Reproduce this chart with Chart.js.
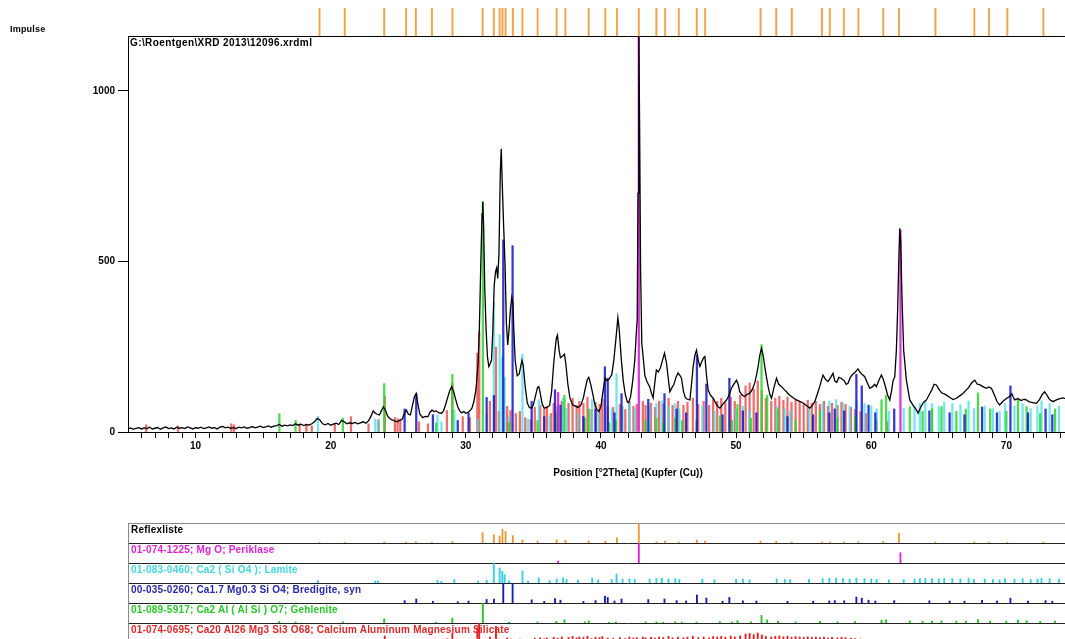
<!DOCTYPE html>
<html>
<head>
<meta charset="utf-8">
<script src="https://cdn.jsdelivr.net/npm/chart.js@4.4.0/dist/chart.umd.min.js"></script>
<style>
  html, body { margin: 0; padding: 0; background: #fff; overflow: hidden; }
  #page { position: relative; width: 1130px; height: 639px; font-family: "Liberation Sans", Arial, sans-serif; font-weight: bold; font-size: 10px; }
  canvas { position: absolute; left: 0; }
  .txt { position: absolute; white-space: nowrap; line-height: 11px; letter-spacing: 0.2px; }
</style>
</head>
<body>
<div id="page">
  <canvas id="main" width="1130" height="483" style="top:0"></canvas>
  <canvas id="marks" width="1130" height="28" style="top:8px"></canvas>
  <div class="txt" style="left:10px;top:24px;font-size:9px">Impulse</div>
  <div class="txt" style="left:130px;top:37px;letter-spacing:0.4px">G:\Roentgen\XRD 2013\12096.xrdml</div>
  <div id="rows"></div>
</div>
<script>
// axis ranges
const xMin = 5, xMax = 79;
const yMax = 1161;
const yTicks = [0, 500, 1000];
const xLabelStep = 10;

// measured pattern [2theta, counts]
const measured = [
  [5.0,9],[5.2,12],[5.4,8],[5.6,11],[5.8,13],[6.0,9],[6.2,12],[6.4,10],[6.6,14],[6.8,9],
  [7.0,11],[7.2,13],[7.4,8],[7.6,12],[7.8,15],[8.0,10],[8.2,12],[8.4,9],[8.6,14],[8.8,11],
  [9.0,13],[9.2,10],[9.4,15],[9.6,12],[9.8,9],[10.0,13],[10.2,11],[10.4,14],[10.6,10],[10.8,12],
  [11.0,15],[11.2,11],[11.4,13],[11.6,9],[11.8,14],[12.0,16],[12.2,12],[12.4,14],[12.6,11],[12.8,13],
  [13.0,10],[13.2,14],[13.4,12],[13.6,15],[13.8,11],[14.0,13],[14.2,16],[14.4,12],[14.6,14],[14.8,17],
  [15.0,13],[15.2,15],[15.4,18],[15.6,14],[15.8,17],[16.0,19],[16.2,22],[16.4,17],[16.6,20],[16.8,18],
  [17.0,21],[17.2,19],[17.4,24],[17.6,20],[17.8,23],[18.0,19],[18.2,22],[18.4,20],[18.6,24],[18.8,30],
  [19.0,40],[19.2,35],[19.4,24],[19.6,21],[19.8,25],[20.0,20],[20.2,23],[20.4,26],[20.6,22],[20.8,34],
  [21.0,30],[21.2,24],[21.4,27],[21.6,25],[21.8,28],[22.0,24],[22.2,27],[22.4,30],[22.6,26],[22.8,33],
  [23.0,48],[23.15,62],[23.3,55],[23.45,52],[23.6,50],[23.75,62],[23.9,74],[24.05,64],[24.2,48],[24.35,40],
  [24.5,36],[24.7,33],[24.9,30],[25.1,34],[25.3,38],[25.45,55],[25.6,64],[25.75,52],[25.9,50],[26.05,78],
  [26.2,104],[26.33,113],[26.45,82],[26.6,52],[26.8,42],[27.0,46],[27.2,45],[27.35,58],[27.5,64],[27.65,60],
  [27.8,62],[28.0,56],[28.2,55],[28.35,62],[28.5,80],[28.65,100],[28.8,120],[28.95,133],[29.1,118],[29.25,95],
  [29.4,74],[29.55,62],[29.7,56],[29.85,60],[30.0,55],[30.15,58],[30.3,62],[30.45,70],[30.6,90],[30.75,125],
  [30.9,200],[31.0,300],[31.1,480],[31.2,640],[31.25,675],[31.32,600],[31.4,420],[31.5,300],[31.6,220],[31.7,192],
  [31.8,200],[31.9,211],[32.0,300],[32.1,430],[32.2,470],[32.28,481],[32.36,450],[32.45,520],[32.55,760],[32.62,830],
  [32.7,720],[32.8,600],[32.9,495],[33.0,320],[33.1,255],[33.2,300],[33.3,360],[33.4,395],[33.48,380],[33.56,290],
  [33.65,211],[33.8,165],[33.95,170],[34.05,190],[34.15,210],[34.25,195],[34.4,130],[34.55,85],[34.7,72],[34.85,70],
  [35.0,80],[35.15,105],[35.3,130],[35.4,133],[35.5,115],[35.65,82],[35.8,70],[36.0,72],[36.2,78],[36.35,120],
  [36.5,200],[36.6,240],[36.7,275],[36.78,284],[36.9,240],[37.0,218],[37.15,222],[37.3,228],[37.4,200],[37.55,140],
  [37.7,100],[37.9,80],[38.1,76],[38.3,72],[38.5,78],[38.7,100],[38.85,130],[39.0,155],[39.1,160],[39.25,138],
  [39.4,110],[39.55,80],[39.7,66],[39.85,60],[40.0,75],[40.15,120],[40.3,158],[40.45,150],[40.6,155],[40.8,168],
  [40.95,210],[41.1,270],[41.25,335],[41.35,300],[41.5,215],[41.65,150],[41.8,110],[41.95,88],[42.05,86],[42.2,105],
  [42.35,150],[42.5,210],[42.6,280],[42.68,330],[42.74,700],[42.8,1170],[42.86,900],[42.93,480],[43.02,260],[43.12,221],
  [43.25,165],[43.4,148],[43.6,133],[43.75,112],[43.86,100],[44.0,150],[44.1,182],[44.25,176],[44.4,188],[44.55,210],
  [44.7,231],[44.85,202],[45.0,150],[45.1,118],[45.25,130],[45.4,140],[45.55,160],[45.7,173],[45.85,165],[45.96,158],
  [46.1,120],[46.25,100],[46.4,96],[46.58,94],[46.7,140],[46.82,192],[46.95,225],[47.07,240],[47.2,210],[47.32,192],
  [47.45,205],[47.6,218],[47.69,221],[47.8,170],[47.93,123],[48.1,108],[48.3,99],[48.5,84],[48.65,75],[48.8,70],
  [49.0,80],[49.15,88],[49.3,94],[49.5,110],[49.65,128],[49.8,138],[50.03,152],[50.15,140],[50.27,118],[50.45,108],
  [50.64,104],[50.8,110],[51.01,114],[51.2,125],[51.38,144],[51.5,165],[51.63,192],[51.75,225],[51.88,245],[52.0,225],
  [52.12,192],[52.25,160],[52.37,133],[52.5,110],[52.62,99],[52.8,130],[52.99,158],[53.15,140],[53.36,133],[53.55,125],
  [53.73,118],[53.9,110],[54.1,104],[54.3,98],[54.47,94],[54.7,90],[54.96,85],[55.2,78],[55.45,70],[55.6,76],
  [55.82,89],[56.0,110],[56.19,133],[56.3,150],[56.43,167],[56.6,155],[56.8,148],[57.0,160],[57.17,172],[57.3,150],
  [57.45,145],[57.6,160],[57.8,157],[58.0,150],[58.15,140],[58.28,143],[58.45,160],[58.6,168],[58.8,175],[59.02,185],
  [59.15,176],[59.3,170],[59.52,162],[59.7,145],[59.89,128],[60.1,133],[60.25,140],[60.38,133],[60.55,150],[60.75,167],
  [60.87,157],[61.0,140],[61.2,110],[61.37,94],[61.5,120],[61.61,150],[61.74,162],[61.86,240],[61.96,367],[62.05,520],
  [62.11,597],[62.18,560],[62.28,387],[62.4,240],[62.6,152],[62.85,94],[63.1,78],[63.34,65],[63.46,55],[63.65,72],
  [63.85,86],[64.08,94],[64.3,110],[64.5,125],[64.65,140],[64.82,138],[65.0,126],[65.2,115],[65.4,112],[65.56,108],
  [65.8,102],[66.05,95],[66.3,99],[66.55,106],[66.79,113],[67.0,122],[67.2,130],[67.45,145],[67.66,152],[67.85,140],
  [68.05,138],[68.27,133],[68.5,128],[68.7,132],[68.89,128],[69.1,110],[69.3,90],[69.5,79],[69.75,90],[70.0,98],
  [70.24,104],[70.4,112],[70.61,94],[70.85,98],[71.1,92],[71.3,96],[71.48,94],[71.7,88],[71.95,86],[72.22,84],
  [72.45,95],[72.65,110],[72.83,118],[73.0,108],[73.2,95],[73.45,89],[73.7,94],[73.95,98],[74.19,100],[74.5,96]
];

// peak list and reference patterns [2theta, relative intensity %]
const reflexliste = [
  [19.17,3],[21.04,3],[23.96,5],[25.58,4],[26.30,6],[27.49,3],[29.01,8],[31.24,52],[32.07,42],[32.50,35],
  [32.71,68],[32.94,58],[33.48,37],[34.19,15],[35.31,10],[36.72,16],[37.37,14],[39.09,10],[40.32,10],[41.18,26],
  [42.80,100],[44.10,6],[44.75,10],[45.76,5],[47.09,15],[47.71,10],[51.81,10],[52.97,8],[54.12,5],[56.35,5],
  [56.93,5],[57.97,4],[59.05,6],[60.89,8],[62.05,50],[64.75,5],[67.63,5],[68.71,5],[70.07,4],[72.74,4]
];
const periklase = [[36.83,10],[42.80,100],[62.16,51]];
const lamite = [
  [19.05,12],[23.30,10],[23.50,9],[27.90,13],[28.20,8],[29.15,17],[30.90,10],[31.55,14],[32.07,100],[32.50,75],
  [32.70,58],[32.87,42],[33.20,12],[34.19,60],[34.60,10],[35.40,25],[36.20,12],[36.72,20],[37.20,26],[37.45,18],
  [38.30,14],[39.35,25],[39.80,16],[40.80,18],[41.15,45],[41.60,20],[42.10,22],[42.50,18],[43.60,20],[44.10,22],
  [44.50,24],[45.00,20],[45.50,22],[45.80,18],[47.50,20],[48.40,16],[50.00,18],[50.50,20],[51.00,16],[53.00,20],
  [53.60,18],[54.00,16],[55.40,18],[56.40,22],[56.90,24],[57.40,25],[57.90,22],[58.40,20],[58.90,24],[59.50,22],
  [60.00,20],[60.40,18],[61.30,16],[62.40,18],[63.20,20],[63.60,22],[64.00,24],[64.50,22],[65.00,20],[65.40,23],
  [66.00,22],[66.60,21],[67.20,24],[67.60,18],[68.40,20],[69.00,18],[69.50,16],[69.90,22],[70.60,20],[71.20,22],
  [71.80,18],[72.30,20],[72.60,24],[73.20,22],[73.90,20]
];
const bredigite = [
  [25.47,12],[26.33,20],[27.56,9],[29.40,6],[30.20,10],[31.54,18],[32.08,19],[32.77,100],[33.46,97],[34.87,16],
  [35.80,8],[36.60,22],[37.00,14],[38.70,8],[39.60,12],[40.29,34],[40.50,28],[41.00,10],[41.52,20],[43.50,17],
  [44.70,20],[45.60,12],[46.30,10],[47.10,40],[47.80,25],[49.00,9],[49.50,28],[50.50,11],[51.50,10],[53.80,8],
  [55.70,9],[56.90,10],[57.30,12],[58.00,11],[58.90,30],[59.30,24],[59.80,14],[60.30,10],[61.70,12],[64.30,11],
  [65.80,10],[66.90,9],[68.20,13],[69.30,10],[70.30,24],[71.60,10],[72.90,12],[73.40,9]
];
const gehlenite = [
  [16.20,8],[17.40,5],[20.90,6],[23.96,21],[27.80,4],[29.00,25],[31.26,100],[33.20,4],[35.30,5],[36.70,8],
  [37.30,16],[38.80,6],[39.10,10],[40.60,4],[41.10,5],[43.30,5],[44.10,6],[44.60,4],[45.50,6],[46.00,5],
  [47.07,5],[48.80,7],[49.70,5],[50.10,12],[51.10,6],[51.88,38],[52.30,16],[53.10,10],[54.40,5],[56.20,9],
  [57.50,6],[58.80,7],[60.76,14],[61.10,16],[62.85,11],[63.80,9],[64.50,10],[65.20,11],[66.30,9],[67.00,10],
  [67.90,17],[68.80,10],[70.00,9],[70.86,14],[71.50,11],[72.50,8],[73.60,10]
];
const cams = [
  [6.35,7],[8.70,6],[12.65,8],[12.85,7],[17.70,8],[18.20,7],[18.60,6],[20.30,8],[21.50,15],[22.80,8],
  [23.55,12],[24.00,35],[24.75,14],[24.95,13],[25.15,12],[26.53,10],[27.20,8],[28.60,21],[29.00,48],[29.77,15],
  [30.30,14],[30.85,77],[30.99,98],[31.78,30],[32.23,83],[32.45,20],[33.06,25],[33.30,21],[33.70,18],[34.00,20],
  [34.40,14],[34.80,12],[35.10,24],[35.50,26],[35.80,22],[36.00,25],[36.30,18],[36.50,28],[36.80,24],[37.10,30],
  [37.60,28],[37.90,33],[38.20,26],[38.40,30],[38.70,28],[39.00,34],[39.30,22],[39.60,29],[39.90,27],[40.10,32],
  [40.50,25],[40.90,24],[41.40,27],[41.80,22],[42.10,30],[42.40,25],[42.65,27],[43.10,30],[43.30,26],[43.70,28],
  [44.00,24],[44.30,30],[44.60,27],[45.00,33],[45.30,26],[45.70,30],[46.10,26],[46.40,29],[46.80,33],[47.20,27],
  [47.60,30],[48.00,26],[48.30,32],[48.60,30],[48.90,33],[49.20,29],[49.60,34],[49.90,30],[50.30,36],[50.70,45],
  [51.00,48],[51.30,42],[51.60,50],[51.90,40],[52.20,33],[52.60,30],[52.90,33],[53.20,35],[53.50,31],[53.80,34],
  [54.10,29],[54.40,32],[54.70,30],[55.00,28],[55.30,31],[55.60,28],[55.90,30],[56.20,27],[56.50,30],[56.80,25],
  [57.10,28],[57.50,26],[57.80,29],[58.10,27],[58.50,24],[58.80,22],[59.20,20],[59.60,18],[60.40,12],[61.20,10]
];

// counts that 100 % of each pattern reaches in the main plot
const periklaseFull = 1160, lamiteFull = 380, bredigiteFull = 563, gehleniteFull = 675, camsFull = 300;

const font = { family: "'Liberation Sans', Arial, sans-serif", size: 10, weight: 'bold' };

// bottom panel rows, top to bottom
const rows = [
  { label: 'Reflexliste', sticks: reflexliste, text: '#000', color: '#ec9a38' },
  { label: '01-074-1225; Mg O; Periklase', sticks: periklase, text: '#e020d8', color: '#e020d8' },
  { label: '01-083-0460; Ca2 ( Si O4 ); Lamite', sticks: lamite, text: '#40d8e0', color: '#30d0e0' },
  { label: '00-035-0260; Ca1.7 Mg0.3 Si O4; Bredigite, syn', sticks: bredigite, text: '#2828a8', color: '#1818b8' },
  { label: '01-089-5917; Ca2 Al ( Al Si ) O7; Gehlenite', sticks: gehlenite, text: '#28c828', color: '#20c820' },
  { label: '01-074-0695; Ca20 Al26 Mg3 Si3 O68; Calcium Aluminum Magnesium Silicate', sticks: cams, text: '#e02828', color: '#e02020' }
];

function sticks(list, full, color, order, thick) {
  return {
    type: 'bar',
    data: list.map(p => ({ x: p[0], y: p[1] * full / 100 })),
    backgroundColor: color,
    barThickness: thick,
    grouped: false,
    order: order
  };
}

const hidden = { display: false, drawTicks: false };

// main diffractogram
new Chart(document.getElementById('main'), {
  type: 'bar',
  data: {
    datasets: [
      { type: 'line', data: measured.map(p => ({ x: p[0], y: p[1] })), borderColor: '#000', borderWidth: 1.3,
        pointRadius: 0, tension: 0, order: 0 },
      sticks(periklase, periklaseFull, 'rgba(215,30,215,0.9)', 1, 1.6),
      sticks(bredigite, bredigiteFull, 'rgba(20,20,200,0.85)', 2, 1.6),
      sticks(gehlenite, gehleniteFull, 'rgba(40,215,40,0.85)', 3, 1.6),
      sticks(lamite, lamiteFull, 'rgba(70,220,230,0.75)', 4, 1.6),
      sticks(cams, camsFull, 'rgba(225,30,30,0.65)', 5, 1.6)
    ]
  },
  options: {
    responsive: false, animation: false, devicePixelRatio: 1,
    layout: { padding: { top: 36, right: 2 } },
    plugins: { legend: { display: false }, tooltip: { enabled: false } },
    scales: {
      x: {
        type: 'linear', position: 'bottom', min: xMin, max: xMax, offset: false,
        afterBuildTicks: s => { s.ticks = []; for (let v = xMin + 1; v <= xMax; v++) s.ticks.push({ value: v }); },
        ticks: { autoSkip: false, maxRotation: 0, padding: 2, color: '#000', font: font,
                 callback: v => v % xLabelStep === 0 ? String(v) : '' },
        grid: { drawOnChartArea: false, tickLength: 6, tickColor: '#000', offset: false },
        border: { color: '#000' },
        title: { display: true, text: 'Position [°2Theta] (Kupfer (Cu))', color: '#000', font: font,
                 padding: { top: 0, bottom: 4 } },
        afterFit: s => { s.height = 51; }
      },
      xTop: {
        type: 'linear', position: 'top', min: xMin, max: xMax, offset: false,
        ticks: { display: false }, grid: hidden, border: { color: '#000' },
        afterFit: s => { s.height = 0; }
      },
      y: {
        min: 0, max: yMax,
        afterBuildTicks: s => { s.ticks = yTicks.map(v => ({ value: v })); },
        ticks: { padding: 3, color: '#000', font: font, callback: v => String(v) },
        grid: { drawOnChartArea: false, tickLength: 10, tickColor: '#000' },
        border: { color: '#000' },
        afterFit: s => { s.width = 128; }
      }
    }
  }
});

// peak markers above the plot
new Chart(document.getElementById('marks'), {
  type: 'bar',
  data: { datasets: [{ data: reflexliste.map(p => ({ x: p[0], y: 1 })), backgroundColor: '#f0a448', barThickness: 1.3 }] },
  options: {
    responsive: false, animation: false, devicePixelRatio: 1,
    layout: { padding: { left: 128, right: 2 } },
    plugins: { legend: { display: false }, tooltip: { enabled: false } },
    scales: {
      x: { type: 'linear', display: false, min: xMin, max: xMax, offset: false },
      y: { display: false, min: 0, max: 1 }
    }
  }
});

// stick rows under the plot
const holder = document.getElementById('rows');
rows.forEach((row, i) => {
  const base = 543 + 20 * i;
  const cv = document.createElement('canvas');
  cv.width = 1130; cv.height = 22;
  cv.style.top = (base - 21) + 'px';
  holder.appendChild(cv);
  const lab = document.createElement('div');
  lab.className = 'txt';
  lab.style.left = '131px';
  lab.style.top = (base - 19.5) + 'px';
  lab.style.color = row.text;
  lab.textContent = row.label;
  holder.appendChild(lab);

  const scales = {
    x: { type: 'linear', min: xMin, max: xMax, offset: false, ticks: { display: false }, grid: hidden,
         border: { color: '#222' }, afterFit: s => { s.height = 1; } },
    y: { min: 0, max: 100, ticks: { display: false }, grid: hidden,
         border: { color: '#888' }, afterFit: s => { s.width = 128; } }
  };
  if (i === 0) {
    scales.xTop = { type: 'linear', position: 'top', min: xMin, max: xMax, offset: false, ticks: { display: false },
                    grid: hidden, border: { color: '#888' }, afterFit: s => { s.height = 0; } };
  }
  new Chart(cv, {
    type: 'bar',
    data: { datasets: [sticks(row.sticks, 100, row.color, 0, 1.2)] },
    options: {
      responsive: false, animation: false, devicePixelRatio: 1,
      layout: { padding: { top: 1, right: 2 } },
      plugins: { legend: { display: false }, tooltip: { enabled: false } },
      scales: scales
    }
  });
});
</script>
</body>
</html>
